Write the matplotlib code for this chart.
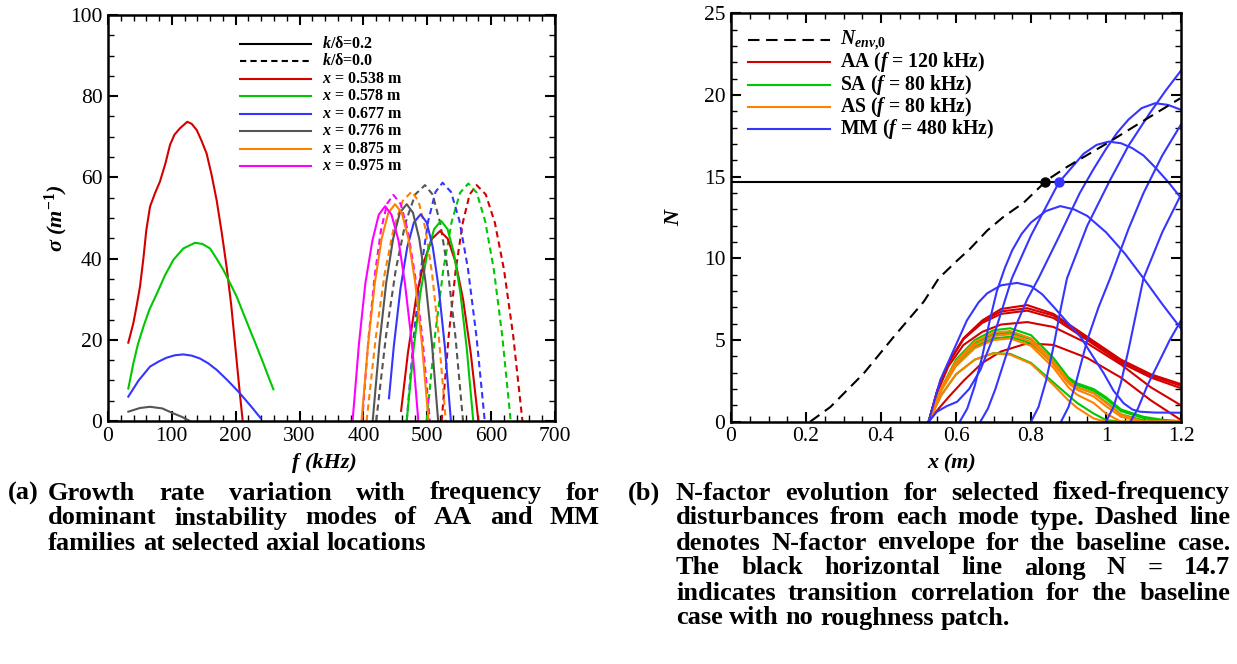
import matplotlib
matplotlib.use("Agg")
import matplotlib.pyplot as plt
from matplotlib.lines import Line2D
from matplotlib.ticker import MultipleLocator

plt.rcParams['font.family'] = ['Liberation Serif', 'DejaVu Serif']
plt.rcParams['mathtext.fontset'] = 'custom'
plt.rcParams['mathtext.rm'] = 'Liberation Serif:bold'
plt.rcParams['mathtext.it'] = 'Liberation Serif:italic:bold'
plt.rcParams['mathtext.bf'] = 'Liberation Serif:bold'

W, H = 1237, 664

RED = '#d40000'
GREEN = '#00c800'
BLUE = '#3535ff'
GREY = '#555555'
ORANGE = '#ff8000'
MAGENTA = '#ff00ff'

# ---------------- (a) growth rate vs frequency ----------------
# low-frequency AA branch, k/delta = 0.2
aa_f_538 = [31.8, 39.7, 45, 50.1, 55.4, 60, 65.8, 73.6, 81.4, 90, 97.1, 104, 112.7, 124.2, 131, 138.8,
            146, 154.4, 162, 170.1, 178, 185.7, 193, 201.4, 206, 210.8]
aa_s_538 = [19.3, 24.1, 28.5, 33.1, 40, 47, 52.8, 56.1, 59.0, 63.5, 68.0, 70.5, 72.1, 73.7, 73.2, 71.7,
            69.2, 65.9, 60.8, 54.4, 46.5, 38.0, 28.5, 15.0, 7.5, 0.2]
aa_f_578 = [31.8, 39.7, 47, 55.4, 65, 76.3, 89, 102.4, 118, 136.3, 148, 159.8, 170, 180.7, 191, 201.6,
            212, 222.4, 233, 243.3, 251, 259]
aa_s_578 = [8.0, 14.2, 19.0, 23.2, 27.5, 31.3, 35.8, 39.7, 42.5, 43.9, 43.6, 42.5, 40.0, 37.2, 34.0, 30.6,
            26.5, 22.4, 18.3, 14.2, 11.0, 7.8]
aa_f_677 = [31.8, 48, 65.8, 80, 91.9, 105, 118, 131, 144, 157, 170.2, 188, 206.7, 223, 239.1]
aa_s_677 = [6.0, 10.0, 13.4, 14.7, 15.6, 16.2, 16.4, 16.1, 15.4, 14.2, 12.6, 9.9, 6.8, 3.8, 0.7]
aa_f_776 = [31.9, 50, 65.8, 85, 102, 116, 128]
aa_s_776 = [2.3, 3.2, 3.5, 3.1, 1.9, 1.0, 0]

# high-frequency MM branch, k/delta = 0.2 (solid)
mm_f_538 = [459, 469.7, 482.2, 494.8, 507.4, 520, 532, 544, 556, 568, 580]
mm_s_538 = [2.5, 16.8, 30, 39.3, 44.9, 46.8, 44.9, 39.3, 30, 16.8, 0]
mm_f_578 = [467.8, 478.5, 489.3, 500, 510.8, 521.5, 531.6, 541.7, 551.8, 561.9, 572]
mm_s_578 = [0, 17.7, 31.6, 41.4, 47.3, 49.3, 47.3, 41.4, 31.6, 17.7, 0]
mm_f_677 = [440, 447.5, 458, 468.6, 479, 489.6, 499.1, 508.6, 518, 527.5, 537]
mm_s_677 = [5.6, 18.3, 32.6, 42.8, 48.9, 50.9, 48.9, 42.8, 32.6, 18.3, 0]
mm_f_776 = [414.5, 425.2, 435.8, 446.5, 457.1, 467.8, 477.6, 487.4, 497.3, 507.2, 517]
mm_s_776 = [0, 19.2, 34.2, 44.9, 51.3, 53.4, 51.3, 44.9, 34.2, 19.2, 0]
mm_f_875 = [397, 407.5, 418, 428.5, 439, 449.5, 460, 470.5, 481, 491.5, 502]
mm_s_875 = [0, 19.2, 34.2, 44.9, 51.3, 53.4, 51.3, 44.9, 34.2, 19.2, 0]
mm_f_975 = [383, 393, 403, 414, 424, 434, 444, 455, 465, 476, 486]
mm_s_975 = [0, 19.0, 33.9, 44.4, 50.8, 52.9, 50.8, 44.4, 33.9, 19.0, 0]

# high-frequency MM branch, k/delta = 0.0 (dashed)
sm_f_538 = [522.5, 533.5, 544.5, 555.5, 566.3, 577.3, 591.6, 605.9, 620.2, 634.6, 649]
sm_s_538 = [0, 20.9, 37.2, 48.8, 55.8, 58.1, 55.8, 48.8, 37.2, 20.9, 0]
sm_f_578 = [499, 512.1, 525.2, 538.2, 551.3, 564.3, 577.6, 590.8, 604.1, 617.3, 630.6]
sm_s_578 = [0, 21.1, 37.4, 49.1, 56.2, 58.5, 56.2, 49.1, 37.4, 21.1, 0]
sm_f_677 = [467.8, 479, 490.3, 501.5, 512.8, 524, 537.2, 550.4, 563.6, 576.8, 590]
sm_s_677 = [0, 21.1, 37.6, 49.3, 56.4, 58.7, 56.4, 49.3, 37.6, 21.1, 0]
sm_f_776 = [420, 435.3, 450.6, 465.8, 481.1, 496.4, 508.3, 520.2, 532.1, 544, 556]
sm_s_776 = [0, 20.9, 37.2, 48.8, 55.8, 58.1, 55.8, 48.8, 37.2, 20.9, 0]
sm_f_875 = [405, 419.1, 433.2, 447.3, 461.4, 475.5, 486.2, 496.9, 507.6, 518.3, 529]
sm_s_875 = [0, 20.3, 36.2, 47.5, 54.2, 56.5, 54.2, 47.5, 36.2, 20.3, 0]
sm_f_975 = [398, 407.8, 417.5, 427.3, 437, 446.8, 458.2, 469.6, 481.1, 492.6, 504]
sm_s_975 = [0, 20.1, 35.6, 46.8, 53.5, 55.7, 53.5, 46.8, 35.6, 20.1, 0]

# ---------------- (b) N-factor evolution ----------------
env_x = [0.211, 0.265, 0.354, 0.434, 0.514, 0.554, 0.6, 0.638, 0.683, 0.727, 0.78, 0.843, 0.896, 1.003, 1.091, 1.198]
env_N = [0, 0.9, 2.96, 5.2, 7.35, 8.78, 9.8, 10.6, 11.7, 12.55, 13.4, 14.8, 15.6, 17.05, 18.3, 19.8]
N_tr = 14.7
dot_black_x = 0.838
dot_blue_x = 0.874

aa_x = [0.527, 0.55, 0.58, 0.62, 0.67, 0.72, 0.79, 0.86, 0.95, 1.04, 1.12, 1.2]
aa_N = [
    [0, 1.9, 3.6, 5.1, 6.2, 6.9, 7.14, 6.6, 5.2, 3.8, 2.9, 2.3],
    [0, 1.9, 3.6, 5.1, 6.15, 6.75, 6.95, 6.5, 5.1, 3.7, 2.8, 2.2],
    [0, 1.9, 3.6, 5.05, 6.05, 6.6, 6.8, 6.35, 5.0, 3.6, 2.7, 2.05],
    [0, 1.8, 3.4, 4.7, 5.5, 5.95, 6.1, 5.8, 4.8, 3.5, 2.1, 1.0],
    [0, 0.7, 1.5, 2.5, 3.6, 4.3, 4.8, 4.7, 3.9, 2.7, 1.3, 0.1],
]
sa_x = [0.527, 0.56, 0.6, 0.65, 0.7, 0.745, 0.8, 0.86, 0.9, 0.923, 0.967, 1.0, 1.04, 1.1, 1.15, 1.2]
sa_N = [
    [0, 2.0, 3.8, 5.0, 5.6, 5.72, 5.3, 3.9, 2.7, 2.35, 2.0, 1.5, 0.75, 0.3, 0.12, 0.03],
    [0, 2.0, 3.7, 4.8, 5.35, 5.45, 5.05, 3.75, 2.6, 2.25, 1.9, 1.4, 0.65, 0.22, 0.06, 0.0],
    [0, 1.9, 3.5, 4.6, 5.1, 5.2, 4.8, 3.55, 2.45, 2.1, 1.75, 1.2, 0.45, 0.08, 0.0, 0.0],
    [0, 1.6, 2.9, 3.8, 4.2, 4.15, 3.6, 2.4, 1.6, 1.15, 0.5, 0.1, 0.0, 0.0, 0.0, 0.0],
]
as_N = [
    [0, 2.0, 3.7, 4.9, 5.45, 5.55, 5.1, 3.7, 2.5, 2.1, 1.75, 1.15, 0.45, 0.0, 0.0, 0.0],
    [0, 2.0, 3.6, 4.7, 5.25, 5.35, 4.9, 3.5, 2.35, 1.95, 1.55, 0.95, 0.3, 0.0, 0.0, 0.0],
    [0, 1.9, 3.4, 4.5, 5.0, 5.1, 4.65, 3.3, 2.1, 1.65, 1.15, 0.5, 0.0, 0.0, 0.0, 0.0],
    [0, 1.6, 2.9, 3.8, 4.19, 4.1, 3.55, 2.25, 1.3, 0.85, 0.2, 0.0, 0.0, 0.0, 0.0, 0.0],
]
mm_x = [
    [0.527, 0.558, 0.594, 0.629, 0.66, 0.683, 0.72, 0.763, 0.8, 0.83, 0.86, 0.9, 0.932, 0.965, 0.994,
     1.02, 1.047, 1.07, 1.091, 1.13, 1.2],
    [0.527, 0.549, 0.575, 0.603, 0.635, 0.665, 0.70, 0.749, 0.80, 0.874, 0.94, 0.975, 1.007, 1.04, 1.07,
     1.1, 1.13, 1.165, 1.2],
    [0.61, 0.63, 0.65, 0.67, 0.69, 0.709, 0.73, 0.75, 0.775, 0.8, 0.84, 0.878, 0.915, 0.95, 1.0, 1.05,
     1.1, 1.15, 1.2],
    [0.665, 0.685, 0.705, 0.73, 0.76, 0.79, 0.82, 0.874, 0.93, 0.965, 1.0, 1.03, 1.06, 1.095, 1.131,
     1.165, 1.2],
    [0.80, 0.82, 0.84, 0.86, 0.88, 0.896, 0.95, 1.011, 1.06, 1.117, 1.16, 1.2],
    [0.88, 0.9, 0.92, 0.95, 0.98, 1.011, 1.06, 1.1, 1.15, 1.2],
    [1.0, 1.02, 1.04, 1.06, 1.08, 1.1, 1.15, 1.2],
    [1.065, 1.085, 1.11, 1.14, 1.17, 1.2],
]
mm_N = [
    [0, 2.55, 4.4, 6.2, 7.3, 7.86, 8.35, 8.5, 8.3, 7.8, 7.04, 6.0, 5.2, 4.0, 2.96,
     1.9, 1.13, 0.75, 0.61, 0.56, 0.55],
    [0, 0.61, 0.95, 1.22, 2.0, 3.17, 5.2, 8.78, 11.4, 14.64, 16.4, 16.95, 17.15, 17.05, 16.75,
     16.3, 15.6, 14.7, 13.7],
    [0, 0.8, 2.2, 4.0, 6.2, 8.0, 9.4, 10.5, 11.5, 12.2, 12.9, 13.2, 13.0, 12.6, 11.6, 10.3,
     8.78, 7.2, 5.7],
    [0, 0.8, 2.0, 3.8, 5.9, 7.5, 8.78, 11.3, 14.0, 15.4, 16.7, 17.7, 18.5, 19.2, 19.5,
     19.4, 19.1],
    [0, 0.9, 2.5, 4.6, 7.0, 8.78, 12.0, 14.8, 16.9, 18.9, 20.3, 21.5],
    [0, 0.9, 2.4, 5.0, 7.0, 8.78, 11.8, 14.0, 16.3, 18.2],
    [0, 0.9, 2.4, 4.4, 6.6, 8.78, 11.6, 13.9],
    [0, 0.8, 2.2, 3.6, 5.0, 6.2],
]

fig = plt.figure(figsize=(W / 100, H / 100), dpi=100)
axa = fig.add_axes([108 / W, 1 - 421 / H, 447 / W, 406 / H])
axb = fig.add_axes([731 / W, 1 - 421.7 / H, 450 / W, 408.3 / H])

lw = 1.5
dash = (0, (3.0, 2.0))
env_dash = (0, (5.5, 3.2))

axa.plot(aa_f_538, aa_s_538, color=RED, lw=lw)
axa.plot(aa_f_578, aa_s_578, color=GREEN, lw=lw)
axa.plot(aa_f_677, aa_s_677, color=BLUE, lw=lw)
axa.plot(aa_f_776, aa_s_776, color=GREY, lw=lw)

solid = [(mm_f_538, mm_s_538, RED), (mm_f_578, mm_s_578, GREEN), (mm_f_677, mm_s_677, BLUE),
         (mm_f_776, mm_s_776, GREY), (mm_f_875, mm_s_875, ORANGE), (mm_f_975, mm_s_975, MAGENTA)]
smooth = [(sm_f_538, sm_s_538, RED), (sm_f_578, sm_s_578, GREEN), (sm_f_677, sm_s_677, BLUE),
          (sm_f_776, sm_s_776, GREY), (sm_f_875, sm_s_875, ORANGE), (sm_f_975, sm_s_975, MAGENTA)]
for f, s, c in smooth:
    axa.plot(f, s, color=c, lw=lw, linestyle=dash)
for f, s, c in solid:
    axa.plot(f, s, color=c, lw=lw)

axa.set_xlim(0, 700)
axa.set_ylim(0, 100)
axa.xaxis.set_major_locator(MultipleLocator(100))
axa.xaxis.set_minor_locator(MultipleLocator(20))
axa.yaxis.set_major_locator(MultipleLocator(20))
axa.yaxis.set_minor_locator(MultipleLocator(5))

for r in aa_N:
    axb.plot(aa_x, r, color=RED, lw=lw)
for r in sa_N:
    axb.plot(sa_x, r, color=GREEN, lw=lw)
for r in as_N:
    axb.plot(sa_x, r, color=ORANGE, lw=lw)
for xs, ns in zip(mm_x, mm_N):
    axb.plot(xs, ns, color=BLUE, lw=lw)
axb.plot(env_x, env_N, color='black', lw=lw, linestyle=env_dash)
axb.axhline(N_tr, color='black', lw=lw)
axb.plot([dot_black_x], [N_tr], 'o', color='black', ms=6.5, zorder=5)
axb.plot([dot_blue_x], [N_tr], 'o', color=BLUE, ms=6.5, zorder=5)

axb.set_xlim(0, 1.2)
axb.set_ylim(0, 25)
axb.xaxis.set_major_locator(MultipleLocator(0.2))
axb.xaxis.set_minor_locator(MultipleLocator(0.05))
axb.yaxis.set_major_locator(MultipleLocator(5))
axb.yaxis.set_minor_locator(MultipleLocator(1))
axb.set_xticks([0, 0.2, 0.4, 0.6, 0.8, 1.0, 1.2])
axb.set_xticklabels(['0', '0.2', '0.4', '0.6', '0.8', '1', '1.2'])

for ax in (axa, axb):
    for sp in ax.spines.values():
        sp.set_linewidth(1.8)
    ax.tick_params(which='both', direction='in', top=True, right=True, labelsize=15.5)
    ax.tick_params(which='major', length=7, width=1.5, pad=4)
    ax.tick_params(which='minor', length=4.5, width=1.0)

lab_kw = dict(fontsize=16, fontweight='bold', fontstyle='italic')
axa.set_xlabel('f (kHz)', **lab_kw)
axa.set_ylabel('σ (m$^{-1}$)', **lab_kw)
axa.xaxis.set_label_coords(0.485, -0.078)
axa.yaxis.set_label_coords(-0.086, 0.5)
axb.set_xlabel('x (m)', **lab_kw)
axb.set_ylabel('N', **lab_kw)
axb.xaxis.set_label_coords(0.491, -0.078)
axb.yaxis.set_label_coords(-0.105, 0.5)


def fx(px):
    return px / W


def fy(py):
    return 1 - py / H


# legend of (a)
leg_a = [('black', '-', '$k$/δ=0.2'), ('black', '--', '$k$/δ=0.0'),
         (RED, '-', '$x$ = 0.538 m'), (GREEN, '-', '$x$ = 0.578 m'),
         (BLUE, '-', '$x$ = 0.677 m'), (GREY, '-', '$x$ = 0.776 m'),
         (ORANGE, '-', '$x$ = 0.875 m'), (MAGENTA, '-', '$x$ = 0.975 m')]
for i, (c, ls, lab) in enumerate(leg_a):
    y = 44 + i * 17.43
    fig.add_artist(Line2D([fx(240), fx(311)], [fy(y), fy(y)], color=c, lw=lw,
                          linestyle=dash if ls == '--' else '-'))
    fig.text(fx(322), fy(y), lab, fontsize=11.5, fontweight='bold', va='center', ha='left')

# legend of (b)
leg_b = [('black', '--', '$N_{env{,}0}$'), (RED, '-', 'AA ($f$ = 120 kHz)'),
         (GREEN, '-', 'SA ($f$ = 80 kHz)'), (ORANGE, '-', 'AS ($f$ = 80 kHz)'),
         (BLUE, '-', 'MM ($f$ = 480 kHz)')]
for i, (c, ls, lab) in enumerate(leg_b):
    y = 40 + i * 22.3
    fig.add_artist(Line2D([fx(748), fx(830)], [fy(y), fy(y)], color=c, lw=lw,
                          linestyle=env_dash if ls == '--' else '-'))
    fig.text(fx(840), fy(y), lab, fontsize=14.2, fontweight='bold', va='center', ha='left')

# captions, justified
cap_kw = dict(fontsize=19, fontweight='bold', va='center', ha='left')
renderer = fig.canvas.get_renderer()


def line_words(words, x0, x1, y, justify=True):
    arts = [fig.text(fx(x0), fy(y), w, **cap_kw) for w in words]
    widths = [a.get_window_extent(renderer).width for a in arts]
    if justify and len(words) > 1:
        gap = (x1 - x0 - sum(widths)) / (len(words) - 1)
    else:
        sp = fig.text(0, 0, 'a a', **cap_kw)
        sa = fig.text(0, 0, 'aa', **cap_kw)
        gap = sp.get_window_extent(renderer).width - sa.get_window_extent(renderer).width
        sp.remove()
        sa.remove()
    x = x0
    for a, w in zip(arts, widths):
        a.set_x(fx(x))
        x += w + gap


cap_a = ["Growth rate variation with frequency for",
         "dominant instability modes of AA and MM",
         "families at selected axial locations"]
cap_b = ["N-factor evolution for selected fixed-frequency",
         "disturbances from each mode type.  Dashed line",
         "denotes N-factor envelope for the baseline case.",
         "The black horizontal line along N = 14.7",
         "indicates transition correlation for the baseline",
         "case with no roughness patch."]

fig.text(fx(8), fy(493), '(a)', **cap_kw)
for i, s in enumerate(cap_a):
    line_words(s.split(), 48, 600, 493 + 25 * i, justify=(i < len(cap_a) - 1))
fig.text(fx(628), fy(493), '(b)', **cap_kw)
for i, s in enumerate(cap_b):
    line_words(s.split(), 676, 1230, 493 + 25 * i, justify=(i < len(cap_b) - 1))

fig.savefig('out.png', dpi=100)
